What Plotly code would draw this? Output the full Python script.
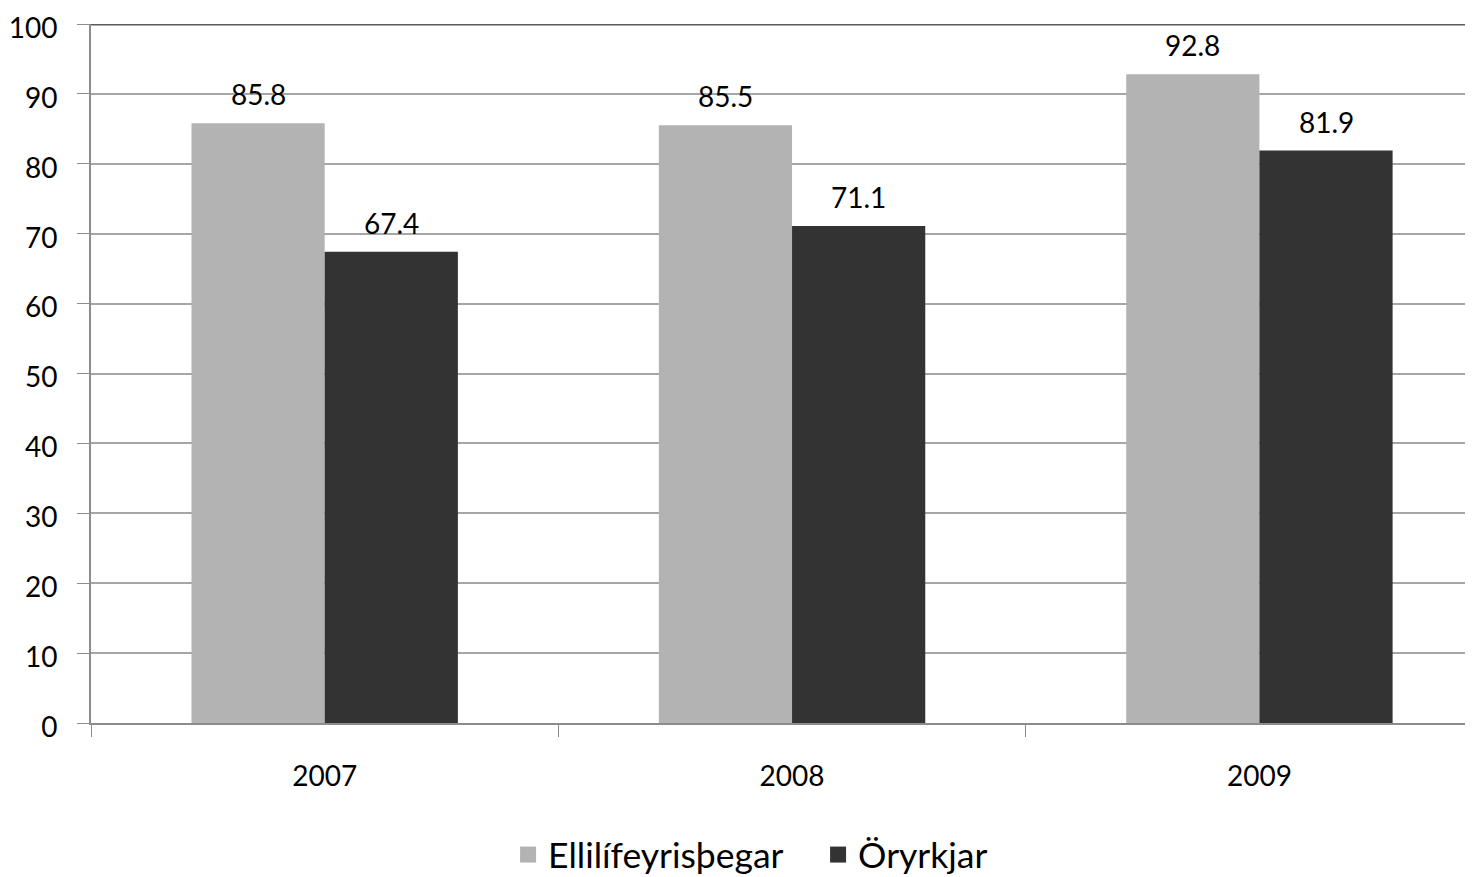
import plotly.graph_objects as go

years = ["2007", "2008", "2009"]
elli = [85.8, 85.5, 92.8]
oryrkjar = [67.4, 71.1, 81.9]
y_ticks = [0, 10, 20, 30, 40, 50, 60, 70, 80, 90, 100]

series = [
    ("Ellilífeyrisþegar", elli, "#b3b3b3"),
    ("Öryrkjar", oryrkjar, "#333333"),
]

font_family = "Lato, 'Open Sans', sans-serif"
bargap = 0.43
bar_w = (1 - bargap) / len(series)

fig = go.Figure()
for k, (name, vals, color) in enumerate(series):
    fig.add_trace(go.Bar(x=years, y=vals, name=name, marker_color=color,
                         marker_line_width=0, showlegend=False))
    # larger legend swatches than the default bar symbol
    fig.add_trace(go.Scatter(x=[None], y=[None], mode="markers", name=name,
                             marker=dict(symbol="square", size=16, color=color,
                                         line=dict(width=0))))
    # value labels above bars
    offset = (k - (len(series) - 1) / 2) * bar_w
    for i, v in enumerate(vals):
        fig.add_annotation(x=i + offset, y=v, xref="x", yref="y",
                           text=f"{v:.1f}", showarrow=False, yanchor="bottom",
                           yshift=10, font=dict(size=28, color="#000000"))

fig.update_layout(
    width=1473, height=877,
    margin=dict(l=83, r=8, t=16, b=162),
    paper_bgcolor="white", plot_bgcolor="white",
    font=dict(family=font_family, size=28, color="#000000"),
    barmode="group", bargap=bargap, bargroupgap=0,
    legend=dict(orientation="h", xref="container", yref="container",
                x=0.3395, y=0.0, xanchor="left", yanchor="bottom",
                font=dict(size=35.5), itemwidth=30, traceorder="normal",
                entrywidth=265, entrywidthmode="pixels"),
    xaxis=dict(type="category", range=[-0.5, 2.457], tickson="boundaries",
               ticks="outside", ticklen=12, tickcolor="#8c8c8c",
               showline=True, linecolor="#8c8c8c", linewidth=2,
               showgrid=False, ticklabelstandoff=27, automargin=False),
    yaxis=dict(range=[0, 100], tickvals=y_ticks, ticks="outside", ticklen=12,
               tickcolor="#8c8c8c", showline=True, linecolor="#8c8c8c", linewidth=2,
               gridcolor="#a6a6a6", gridwidth=2, zeroline=False,
               ticklabelstandoff=14, ticklabelshift=4,
               ticklabeloverflow="allow", automargin=False),
)

# darker top border of plot area
fig.add_shape(type="line", xref="paper", yref="y", x0=0, x1=1, y0=100, y1=100,
              line=dict(color="#5a5a5a", width=3))

fig.write_html("out.html")
